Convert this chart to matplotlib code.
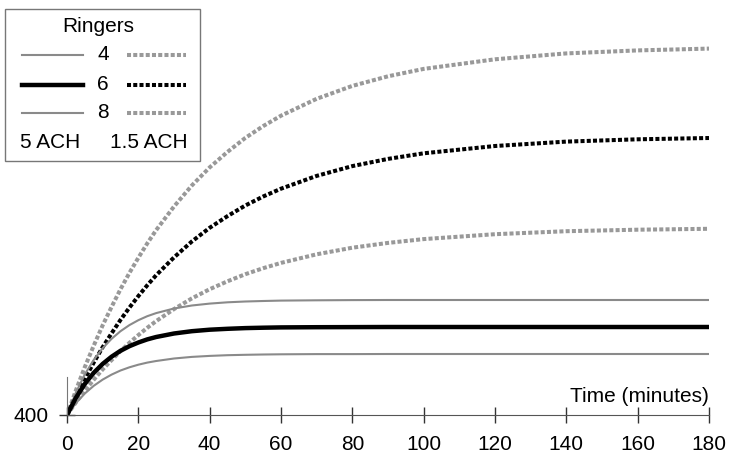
import matplotlib
matplotlib.use("Agg")
from matplotlib import pyplot as plt
from matplotlib.lines import Line2D
from matplotlib.patches import Rectangle

plt.rcParams['font.family'] = ['Liberation Sans', 'DejaVu Sans']
plt.rcParams['font.size'] = 15

# time in minutes
minutes = [0, 2.5, 5, 7.5, 10, 12.5, 15, 17.5, 20, 22.5, 25, 30, 35, 40, 45, 50, 55, 60,
           70, 80, 90, 100, 120, 140, 160, 180]

# 5 ACH (solid lines)
ach5_r4 = [400, 519, 615, 692, 754, 804, 845, 877, 903, 924, 940, 965, 981, 991, 998, 1002, 1005, 1007,
           1009, 1009, 1010, 1010, 1010, 1010, 1010, 1010]
ach5_r6 = [400, 572, 711, 822, 911, 983, 1042, 1088, 1125, 1156, 1180, 1215, 1238, 1253, 1262, 1269, 1273, 1276,
           1278, 1279, 1280, 1280, 1280, 1280, 1280, 1280]
ach5_r8 = [400, 624, 806, 951, 1068, 1162, 1238, 1299, 1348, 1388, 1419, 1465, 1495, 1514, 1527, 1535, 1540, 1544,
           1547, 1549, 1550, 1550, 1550, 1550, 1550, 1550]

# 1.5 ACH (dotted lines)
ach15_r4 = [400, 526, 644, 753, 856, 949, 1039, 1122, 1199, 1272, 1339, 1459, 1566, 1658, 1737, 1808, 1868, 1921,
            2007, 2073, 2121, 2159, 2208, 2238, 2253, 2262]
ach15_r6 = [400, 587, 763, 925, 1078, 1217, 1351, 1474, 1589, 1697, 1798, 1976, 2135, 2272, 2389, 2495, 2585, 2663,
            2791, 2889, 2961, 3017, 3090, 3134, 3157, 3170]
ach15_r8 = [400, 647, 880, 1094, 1297, 1481, 1658, 1821, 1972, 2116, 2249, 2485, 2695, 2876, 3031, 3171, 3289, 3393,
            3562, 3691, 3787, 3861, 3957, 4016, 4046, 4064]

ringers = ["4", "6", "8"]
gray = "#8a8a8a"
dot_gray = "#999999"
dots = (0, (1.0, 0.55))

W, H = 729, 455
fig = plt.figure(figsize=(W / 100, H / 100), dpi=100)
ax = fig.add_axes([67 / W, (H - 415) / H, 642 / W, 408 / H])

ax.plot(minutes, ach15_r4, color=dot_gray, lw=2.9, linestyle=dots)
ax.plot(minutes, ach15_r8, color=dot_gray, lw=2.9, linestyle=dots)
ax.plot(minutes, ach15_r6, color="black", lw=2.9, linestyle=dots)
ax.plot(minutes, ach5_r4, color=gray, lw=1.5)
ax.plot(minutes, ach5_r8, color=gray, lw=1.5)
ax.plot(minutes, ach5_r6, color="black", lw=3.2)

ax.set_xlim(0, 180)
ax.set_ylim(400, 4480)
ax.set_xticks(range(0, 181, 20))
ax.set_yticks([400])
for s in ["top", "right"]:
    ax.spines[s].set_visible(False)
ax.spines["bottom"].set_color("#555555")
ax.spines["left"].set_color("#777777")
ax.spines["left"].set_bounds(400, 780)
ax.tick_params(direction="inout", length=11, width=1, color="#333333")
ax.tick_params(axis="x", pad=9)
ax.tick_params(axis="y", pad=8)
ax.text(180, 530, "Time (minutes)", ha="right", va="baseline")

# legend box drawn by hand in pixel coords
ov = fig.add_axes([0, 0, 1, 1])
ov.set_xlim(0, W)
ov.set_ylim(H, 0)
ov.axis("off")
ov.add_patch(Rectangle((5, 9), 195, 152, facecolor="white", edgecolor="#777777", lw=1))
ov.text(98, 27, "Ringers", ha="center", va="center")
rows = [55, 85, 113]
for i, r in enumerate(ringers):
    y = rows[i]
    c = "black" if r == "6" else gray
    ov.add_line(Line2D([22, 83], [y, y], color=c, lw=3.2 if r == "6" else 1.5))
    ov.add_line(Line2D([127, 186], [y, y], color="black" if r == "6" else dot_gray, lw=2.9, linestyle=dots))
    ov.text(103, y, r, ha="center", va="center")
ov.text(50, 143, "5 ACH", ha="center", va="center")
ov.text(149, 143, "1.5 ACH", ha="center", va="center")

fig.savefig("out.png", dpi=100)
